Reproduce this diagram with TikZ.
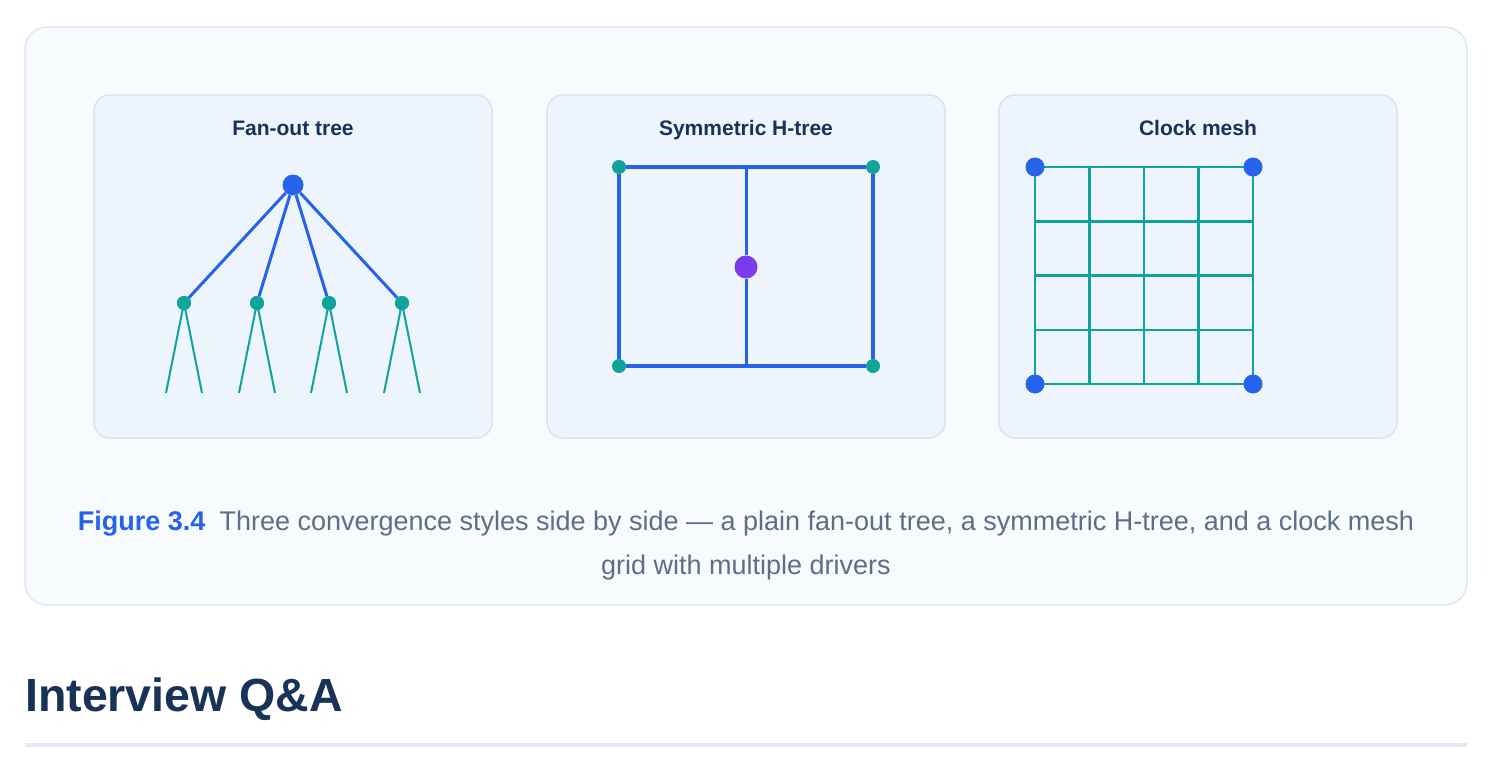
\documentclass[tikz,border=0pt]{standalone}
\usepackage{fontspec}
\setmainfont{Liberation Sans}
\usepackage{tikz}
\usetikzlibrary{positioning}
\definecolor{clkblue}{HTML}{2563EB}
\definecolor{clkteal}{HTML}{10A39B}
\definecolor{clkpurple}{HTML}{7C3AED}
\definecolor{navy}{HTML}{183258}
\definecolor{capgray}{HTML}{5E6E86}
\definecolor{outerfill}{HTML}{F7FAFE}
\definecolor{outerline}{HTML}{E0E8F2}
\definecolor{panelfill}{HTML}{EDF4FC}
\definecolor{panelline}{HTML}{DAE4F0}
\definecolor{rulecol}{HTML}{E2EAF5}
\tikzset{
  panel/.style={draw=panelline, line width=1.5pt, fill=panelfill, rounded corners=16pt},
  ptitle/.style={font=\fontsize{21}{25}\selectfont\bfseries, text=navy, anchor=base},
  driver/.style={circle, fill=clkblue, inner sep=0pt, minimum size=#1},
  sink/.style={circle, fill=clkteal, inner sep=0pt, minimum size=14pt},
  trunk/.style={draw=clkblue, line width=3pt},
  twig/.style={draw=clkteal, line width=2pt},
  meshline/.style={draw=clkteal, line width=2.5pt},
  captext/.style={font=\fontsize{27}{31}\selectfont, text=capgray, anchor=base},
}

\begin{document}
\begin{tikzpicture}[x=1pt,y=-1pt]
\useasboundingbox (0,0) rectangle (1494,774);
\fill[white] (0,0) rectangle (1494,774);
% figure frame
\draw[draw=outerline, line width=1.5pt, fill=outerfill, rounded corners=22pt] (25,27) rectangle (1467,605);
\draw[panel] (94,95) rectangle (492,438);
\draw[panel] (547,95) rectangle (945,438);
\draw[panel] (999,95) rectangle (1397,438);
\node[ptitle] (t1) at (293,135) {Fan-out tree};
\node[ptitle] (t2) at (746,135) {Symmetric H-tree};
\node[ptitle] (t3) at (1198,135) {Clock mesh};

% fan-out tree
\node[driver=21pt] (root) at (293,185) {};
\foreach \i/\x in {1/184,2/257,3/329,4/402} {
  \node[sink] (c\i) at (\x,303) {};
  \coordinate (l\i a) at (\x-18,393);
  \coordinate (l\i b) at (\x+18,393);
  \draw[trunk] (root) -- (c\i);
  \draw[twig] (c\i.center) -- (l\i a);
  \draw[twig] (c\i.center) -- (l\i b);
  \node[sink] at (c\i) {};
}

% H-tree
\node[sink] (h1) at (619,167) {};
\node[sink] (h2) at (873,167) {};
\node[sink] (h3) at (873,366) {};
\node[sink] (h4) at (619,366) {};
\node[driver=23pt, fill=clkpurple] (hc) at (746,267) {};
\coordinate (ht) at (746,167);
\coordinate (hb) at (746,366);
\draw[trunk, line width=3.5pt] (h1) -- (h2) -- (h3) -- (h4) -- (h1);
\draw[trunk] (ht) -- (hc) -- (hb);

% clock mesh
\foreach \k in {0,...,4} {
  \draw[meshline] (1035+54.5*\k,167) -- (1035+54.5*\k,384);
  \draw[meshline] (1035,167+54.25*\k) -- (1253,167+54.25*\k);
}
\node[driver=19pt] (m1) at (1035,167) {};
\node[driver=19pt] (m2) at (1253,167) {};
\node[driver=19pt] (m3) at (1253,384) {};
\node[driver=19pt] (m4) at (1035,384) {};

% caption
\node[captext] (cap1) at (746,530)
  {{\color{clkblue}\bfseries Figure 3.4}\hspace{14pt}Three convergence styles side by side --- a plain fan-out tree, a symmetric H-tree, and a clock mesh};
\node[captext] (cap2) at (746,574) {grid with multiple drivers};

% heading
\node[font=\fontsize{46.5}{52}\selectfont\bfseries, text=navy, anchor=base west, inner sep=0pt] (qa) at (25,711) {Interview Q\&A};
\fill[rulecol] (25,743) rectangle (1467,747);
\end{tikzpicture}
\end{document}
